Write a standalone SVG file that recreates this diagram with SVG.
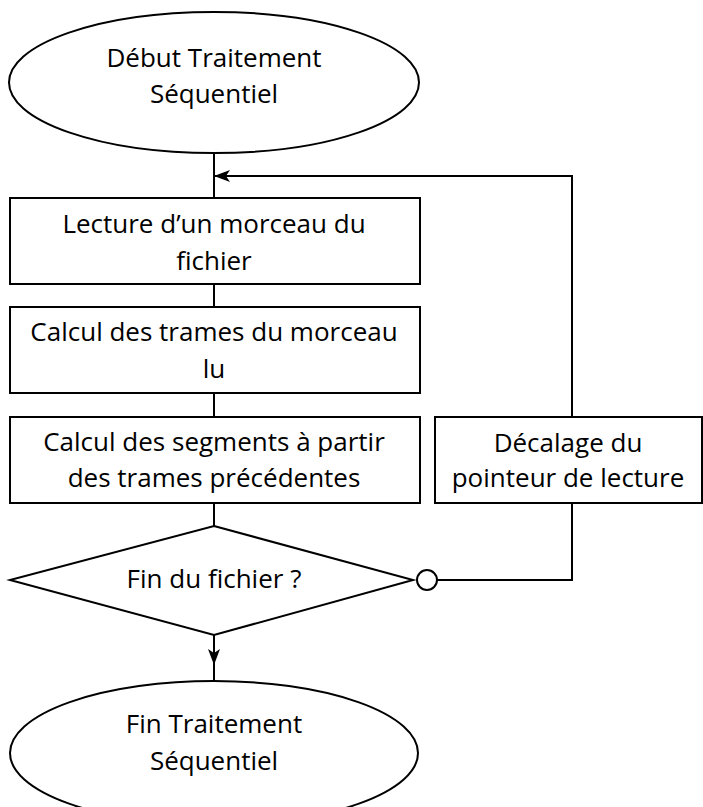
<svg xmlns="http://www.w3.org/2000/svg" width="703" height="807" viewBox="0 0 703 807">
  <style>
    .shape { fill: #ffffff; stroke: #000000; stroke-width: 2; }
    .wire { fill: none; stroke: #000000; stroke-width: 2; }
    text { font-family: "Open Sans", Lato, "Liberation Sans", sans-serif; font-size: 26px; fill: #000000; text-anchor: middle; }
  </style>
  <defs>
    <marker id="arrow" viewBox="0 0 16 12" refX="15" refY="6" markerWidth="16" markerHeight="12" markerUnits="userSpaceOnUse" orient="auto">
      <path d="M0,0 L16,6 L0,12 L4,6 Z" fill="#000000"/>
    </marker>
  </defs>
  <rect width="703" height="807" fill="#ffffff"/>

  <!-- connectors -->
  <g id="connectors">
    <line class="wire" x1="214" y1="153" x2="214" y2="198"/>
    <line class="wire" x1="214" y1="284" x2="214" y2="307"/>
    <line class="wire" x1="214" y1="393" x2="214" y2="417"/>
    <line class="wire" x1="214" y1="503" x2="214" y2="526"/>
    <line class="wire" x1="214" y1="635" x2="214" y2="681"/>
    <line class="wire" x1="214" y1="635" x2="214" y2="664" marker-end="url(#arrow)"/>
    <!-- loop back: from decision through offset box to the top -->
    <polyline class="wire" points="437,580 572,580 572,503"/>
    <polyline class="wire" points="572,417 572,176 215,176" marker-end="url(#arrow)"/>
    <circle class="shape" cx="427" cy="580" r="10"/>
  </g>

  <g id="start">
    <ellipse class="shape" cx="214" cy="82.5" rx="205" ry="70.5"/>
    <text x="214" y="67">Début Traitement</text>
    <text x="214" y="103">Séquentiel</text>
  </g>

  <g id="read-chunk">
    <rect class="shape" x="10" y="198" width="410" height="86"/>
    <text x="214" y="233">Lecture d’un morceau du</text>
    <text x="214" y="270">fichier</text>
  </g>

  <g id="compute-frames">
    <rect class="shape" x="10" y="307" width="410" height="86"/>
    <text x="214" y="341">Calcul des trames du morceau</text>
    <text x="214" y="378">lu</text>
  </g>

  <g id="compute-segments">
    <rect class="shape" x="10" y="417" width="410" height="86"/>
    <text x="214" y="451">Calcul des segments à partir</text>
    <text x="214" y="487">des trames précédentes</text>
  </g>

  <g id="shift-pointer">
    <rect class="shape" x="435" y="417" width="267" height="86"/>
    <text x="568" y="452">Décalage du</text>
    <text x="568" y="487">pointeur de lecture</text>
  </g>

  <g id="end-of-file">
    <polygon class="shape" points="214,526 413,580 214,635 10,580"/>
    <text x="214" y="588">Fin du fichier ?</text>
  </g>

  <g id="end">
    <ellipse class="shape" cx="214" cy="753" rx="204" ry="72"/>
    <text x="214" y="733">Fin Traitement</text>
    <text x="214" y="770">Séquentiel</text>
  </g>
</svg>
